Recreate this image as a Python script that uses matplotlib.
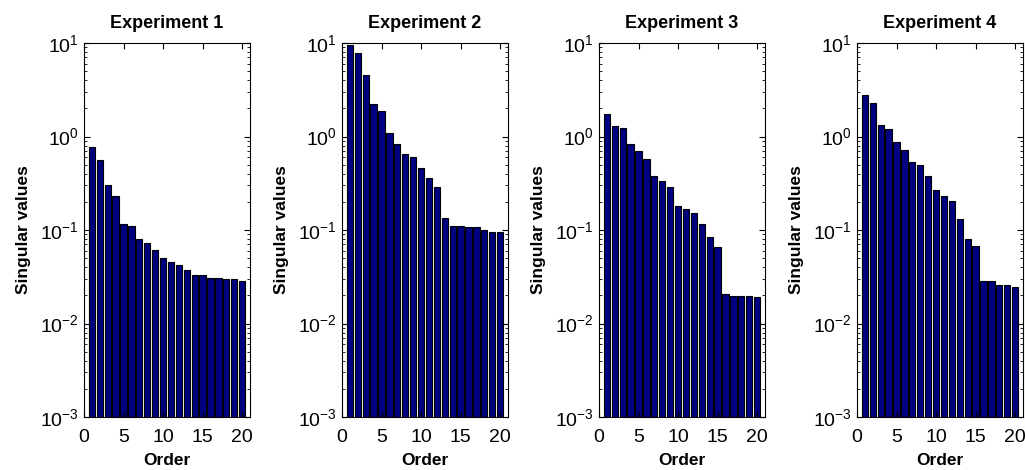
import numpy as np
import matplotlib
matplotlib.use('Agg')
from matplotlib import pyplot as plt
from matplotlib.ticker import LogLocator, NullFormatter

plt.rcParams['font.family'] = ['Liberation Sans', 'DejaVu Sans']
plt.rcParams['mathtext.fontset'] = 'custom'
plt.rcParams['mathtext.rm'] = 'Liberation Sans'
plt.rcParams['mathtext.it'] = 'Liberation Sans:italic'
plt.rcParams['mathtext.bf'] = 'Liberation Sans:bold'

order = np.arange(1, 21)
titles = ['Experiment 1', 'Experiment 2', 'Experiment 3', 'Experiment 4']

exp1 = [0.78, 0.556, 0.30, 0.229, 0.115, 0.110, 0.0788, 0.072, 0.060, 0.0498,
        0.0444, 0.0412, 0.0364, 0.0322, 0.0322, 0.0299, 0.0299, 0.029, 0.029, 0.0278]
exp2 = [9.6, 7.9, 4.55, 2.21, 1.89, 1.10, 0.838, 0.644, 0.598, 0.457,
        0.363, 0.286, 0.133, 0.110, 0.110, 0.106, 0.106, 0.099, 0.0937, 0.0937]
exp3 = [1.74, 1.285, 1.24, 0.838, 0.70, 0.57, 0.378, 0.334, 0.286, 0.181,
        0.168, 0.151, 0.114, 0.084, 0.0647, 0.0199, 0.0189, 0.0189, 0.0189, 0.0181]
exp4 = [2.75, 2.28, 1.33, 1.19, 0.873, 0.723, 0.53, 0.492, 0.375, 0.268,
        0.229, 0.204, 0.129, 0.0788, 0.0668, 0.0275, 0.0275, 0.0248, 0.0248, 0.0236]
data = [exp1, exp2, exp3, exp4]

fig = plt.figure(figsize=(10.25, 4.7), dpi=100)
lefts = [84, 342, 599, 857]
w, bottom, top = 166, 417, 43
for i in range(4):
    ax = fig.add_axes([lefts[i] / 1025, 1 - bottom / 470, w / 1025, (bottom - top) / 470])
    ax.bar(order, data[i], width=0.8, bottom=1e-3, color='#000080',
           edgecolor='black', linewidth=0.8)
    ax.set_yscale('log')
    ax.set_ylim(1e-3, 1e1)
    ax.set_xlim(0, 21)
    ax.set_xticks([0, 5, 10, 15, 20])
    ax.yaxis.set_major_locator(LogLocator(base=10, numticks=10))
    ax.yaxis.set_minor_locator(LogLocator(base=10, subs=np.arange(2, 10), numticks=10))
    ax.yaxis.set_minor_formatter(NullFormatter())
    ax.tick_params(which='both', direction='in', top=True, right=True, labelsize=14)
    ax.tick_params(which='major', length=4, width=0.8)
    ax.tick_params(which='minor', length=2, width=0.6)
    ax.tick_params(axis='x', which='major', pad=9)
    ax.tick_params(axis='y', which='major', pad=4)
    ax.set_title(titles[i], fontsize=13, fontweight='bold', pad=11)
    ax.set_xlabel('Order', fontsize=12.5, fontweight='bold', labelpad=5)
    ax.set_ylabel('Singular values', fontsize=12.5, fontweight='bold', labelpad=6)
    for s in ax.spines.values():
        s.set_linewidth(0.8)

fig.savefig('out.png', dpi=100)
